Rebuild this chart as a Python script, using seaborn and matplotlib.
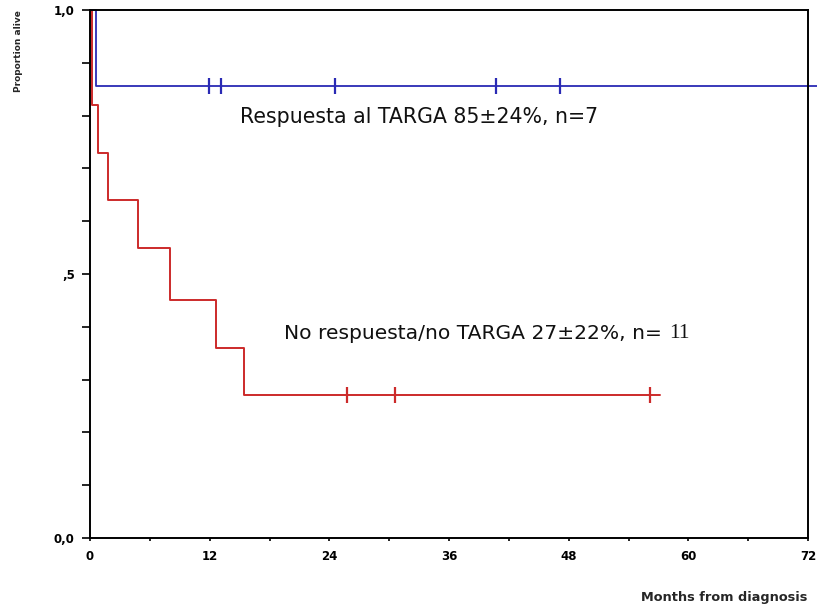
import matplotlib
matplotlib.use("Agg")
import matplotlib.pyplot as plt
import seaborn as sns
import pandas as pd
import numpy as np

# ---- data ----
red_times = [0.0, 0.17, 0.83, 1.77, 4.85, 8.0, 12.6, 15.4, 57.2]
red_surv = [1.0, 0.82, 0.73, 0.64, 0.55, 0.45, 0.36, 0.27, 0.27]
red_censor_times = [25.8, 30.6, 56.2]
red_censor_surv = [0.27, 0.27, 0.27]

blue_times = [0.0, 0.6, 73.0]
blue_surv = [1.0, 0.857, 0.857]
blue_censor_times = [11.9, 13.1, 24.6, 40.7, 47.1]
blue_censor_surv = [0.857, 0.857, 0.857, 0.857, 0.857]

x_ticks = [0, 6, 12, 18, 24, 30, 36, 42, 48, 54, 60, 66, 72]
x_labels = ["0", "", "12", "", "24", "", "36", "", "48", "", "60", "", "72"]
y_ticks = [0.0, 0.1, 0.2, 0.3, 0.4, 0.5, 0.6, 0.7, 0.8, 0.9, 1.0]
y_labels = ["0,0", "", "", "", "", ",5", "", "", "", "", "1,0"]

label_blue = "Respuesta al TARGA 85\u00b124%, n=7"
label_red_a = "No respuesta/no TARGA 27\u00b122%, n= "
label_red_b = "11"
x_title = "Months from diagnosis"
y_title = "Proportion alive"

RED = "#cc2a2a"
BLUE = "#2a2ab4"

sns.set_theme(style="white")
plt.rcParams["font.family"] = ["DejaVu Sans"]

fig = plt.figure(figsize=(8.17, 6.06), dpi=100)
ax = fig.add_axes([90 / 817, 68 / 606, 718 / 817, 528 / 606])

red_df = pd.DataFrame({"t": red_times, "s": red_surv})
blue_df = pd.DataFrame({"t": blue_times, "s": blue_surv})
sns.lineplot(data=red_df, x="t", y="s", drawstyle="steps-post", color=RED,
             linewidth=1.4, ax=ax, estimator=None, sort=False)
sns.lineplot(data=blue_df, x="t", y="s", drawstyle="steps-post", color=BLUE,
             linewidth=1.3, ax=ax, estimator=None, sort=False, clip_on=False)

rc = pd.DataFrame({"t": red_censor_times, "s": red_censor_surv})
bc = pd.DataFrame({"t": blue_censor_times, "s": blue_censor_surv})
sns.scatterplot(data=rc, x="t", y="s", marker="|", s=130, color=RED,
                linewidth=1.6, ax=ax, zorder=3)
sns.scatterplot(data=bc, x="t", y="s", marker="|", s=130, color=BLUE,
                linewidth=1.6, ax=ax, zorder=3)

ax.set_xlim(0, 72)
ax.set_ylim(0, 1)
ax.set_xticks(x_ticks)
ax.set_xticklabels(x_labels)
ax.set_yticks(y_ticks)
ax.set_yticklabels(y_labels)
ax.set_xlabel("")
ax.set_ylabel("")
for sp in ax.spines.values():
    sp.set_visible(True)
    sp.set_color("black")
    sp.set_linewidth(1.4)
ax.tick_params(axis="y", direction="out", length=6, width=1.2, pad=5,
               labelsize=8.5, colors="black", left=True)
ax.tick_params(axis="x", direction="out", length=2.5, width=1.2, pad=6,
               labelsize=8.5, colors="black", bottom=True)
for lab in ax.get_xticklabels() + ax.get_yticklabels():
    lab.set_fontweight("bold")

ax.text(15.0, 0.797, label_blue, fontsize=14.8, color="#111111", va="center", ha="left")
t_red = ax.text(19.5, 0.388, label_red_a, fontsize=14.6, color="#111111",
                va="center", ha="left")
fig.canvas.draw()
bb = t_red.get_window_extent(renderer=fig.canvas.get_renderer())
x_end = ax.transData.inverted().transform((bb.x1, bb.y0))[0]
ax.text(x_end, 0.388, label_red_b, fontsize=15.5, color="#111111", va="center",
        ha="left", family=["Liberation Serif", "DejaVu Serif"])

fig.text(19 / 817, 1 - 10 / 606, y_title, rotation=90, va="top", ha="center",
         fontsize=6.5, fontweight="bold")
fig.text(807 / 817, 1 - 598 / 606, x_title, va="center", ha="right",
         fontsize=9.3, fontweight="bold")

fig.savefig("out.png", dpi=100)
